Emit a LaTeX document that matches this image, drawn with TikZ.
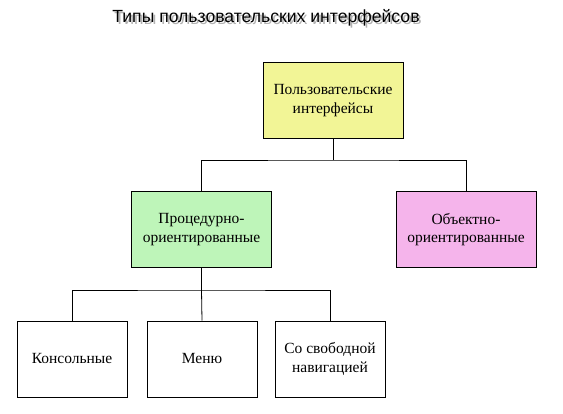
\documentclass[tikz,border=0pt]{standalone}
\usepackage{fontspec}
\setmainfont{Liberation Serif}
\newfontfamily\titlefont{Liberation Sans}
\definecolor{cyel}{RGB}{242,245,150}
\definecolor{cgrn}{RGB}{190,245,185}
\definecolor{cpnk}{RGB}{245,180,235}
\newcommand{\shadowtext}[1]{\makebox[0pt][l]{\hspace{2pt}\raisebox{-2pt}{\textcolor{black!30}{#1}}}#1}
\tikzset{
  boxn/.style={draw=black, line width=0.9pt, minimum width=140pt, minimum height=76pt, align=center, font=\fontsize{15.5}{18.5}\selectfont, inner sep=0pt},
  sboxn/.style={boxn, minimum width=110pt},
  conn/.style={draw=black, line width=0.8pt}
}
\begin{document}
\begin{tikzpicture}[x=1pt,y=-1pt]
\useasboundingbox[fill=white] (0,0) rectangle (563,414);
% title with shadow
\node[text=black, font=\titlefont\fontsize{17.6}{20}\selectfont] (title) at (266,19) {\shadowtext{Типы пользовательских интерфейсов}};
% boxes
\node[boxn, fill=cyel] (top) at (333,100.5) {Пользовательские\\интерфейсы};
\node[boxn, fill=cgrn] (proc) at (201.5,229.5) {Процедурно-\\ориентированные};
\node[boxn, fill=cpnk] (obj) at (466,229.5) {Объектно-\\ориентированные};
\node[sboxn] (cons) at (72,359) {Консольные};
\node[sboxn] (menu) at (202,359) {Меню};
\node[sboxn] (free) at (330,359) {Со свободной\\навигацией};
% connectors
\coordinate (j1) at (333,160);
\coordinate (j2) at (201.5,290);
\draw[conn] (top.south) -- (j1);
\draw[conn] (proc.north) |- (j1) -| (obj.north);
\draw[conn] (proc.south) -- (j2);
\draw[conn] (cons.north) |- (j2) -| (free.north);
\draw[conn] (j2) -- (menu.north);
\end{tikzpicture}
\end{document}
